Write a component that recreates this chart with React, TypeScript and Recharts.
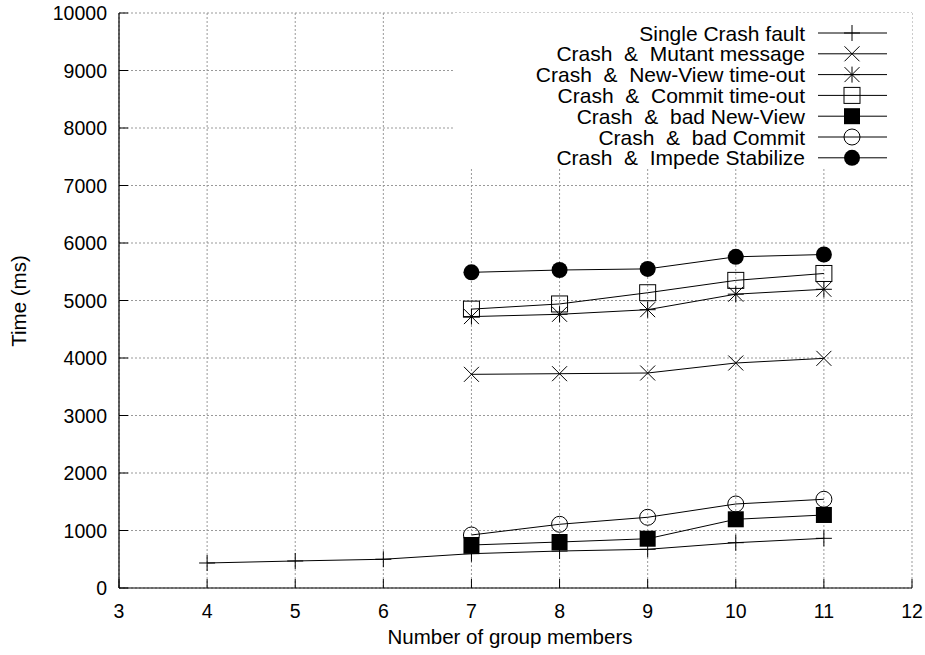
import { LineChart, Line, XAxis, YAxis, CartesianGrid, ReferenceArea } from "recharts";

// group size on x, recovery time (ms) on y
const members = [4, 5, 6, 7, 8, 9, 10, 11];
const singleCrash = [435, 470, 500, 597, 643, 673, 788, 864];
const mutantMessage = [null, null, null, 3716, 3727, 3739, 3913, 3994];
const newViewTimeout = [null, null, null, 4720, 4760, 4840, 5110, 5195];
const commitTimeout = [null, null, null, 4850, 4940, 5135, 5350, 5470];
const badNewView = [null, null, null, 748, 800, 857, 1195, 1270];
const badCommit = [null, null, null, 922, 1108, 1230, 1461, 1543];
const impedeStabilize = [null, null, null, 5490, 5530, 5550, 5760, 5800];

const xTicks = [3, 4, 5, 6, 7, 8, 9, 10, 11, 12];
const yTicks = [0, 1000, 2000, 3000, 4000, 5000, 6000, 7000, 8000, 9000, 10000];

const data = members.map((n, i) => ({
  n,
  single: singleCrash[i],
  mutant: mutantMessage[i],
  nvTimeout: newViewTimeout[i],
  commitTimeout: commitTimeout[i],
  badNV: badNewView[i],
  badCommit: badCommit[i],
  impede: impedeStabilize[i],
}));

type Shape = "plus" | "cross" | "star" | "square" | "squareFill" | "circle" | "circleFill";

const series: { key: string; label: string; shape: Shape }[] = [
  { key: "single", label: "Single Crash fault", shape: "plus" },
  { key: "mutant", label: "Crash  &  Mutant message", shape: "cross" },
  { key: "nvTimeout", label: "Crash  &  New-View time-out", shape: "star" },
  { key: "commitTimeout", label: "Crash  &  Commit time-out", shape: "square" },
  { key: "badNV", label: "Crash  &  bad New-View", shape: "squareFill" },
  { key: "badCommit", label: "Crash  &  bad Commit", shape: "circle" },
  { key: "impede", label: "Crash  &  Impede Stabilize", shape: "circleFill" },
];

const W = 925;
const H = 655;
const LEFT = 119;
const RIGHT = 912;
const TOP = 13;
const BOTTOM = 588;
const TICK = 9;
const FONT = "'Liberation Sans', Arial, Helvetica, sans-serif";

function Marker({ shape, cx, cy }: { shape: Shape; cx: number; cy: number }) {
  const s = 8;
  const d = 7.5;
  const k = { stroke: "#000", strokeWidth: 1 };
  switch (shape) {
    case "plus":
      return (
        <g>
          <line x1={cx - s} x2={cx + s} y1={cy} y2={cy} {...k} />
          <line x1={cx} x2={cx} y1={cy - s} y2={cy + s} {...k} />
        </g>
      );
    case "cross":
      return (
        <g>
          <line x1={cx - d} x2={cx + d} y1={cy - d} y2={cy + d} {...k} />
          <line x1={cx - d} x2={cx + d} y1={cy + d} y2={cy - d} {...k} />
        </g>
      );
    case "star":
      return (
        <g>
          <line x1={cx - s} x2={cx + s} y1={cy} y2={cy} {...k} />
          <line x1={cx} x2={cx} y1={cy - s} y2={cy + s} {...k} />
          <line x1={cx - d} x2={cx + d} y1={cy - d} y2={cy + d} {...k} />
          <line x1={cx - d} x2={cx + d} y1={cy + d} y2={cy - d} {...k} />
        </g>
      );
    case "square":
      return <rect x={cx - s} y={cy - s} width={2 * s} height={2 * s} fill="none" {...k} />;
    case "squareFill":
      return <rect x={cx - s} y={cy - s} width={2 * s} height={2 * s} fill="#000" stroke="none" />;
    case "circle":
      return <circle cx={cx} cy={cy} r={s} fill="none" {...k} />;
    default:
      return <circle cx={cx} cy={cy} r={s} fill="#000" stroke="none" />;
  }
}

const dotFor = (shape: Shape) => (p: any) => {
  if (p.cx == null || p.cy == null || p.value == null) return <g key={p.index} />;
  return (
    <g key={p.index}>
      <Marker shape={shape} cx={p.cx} cy={p.cy} />
    </g>
  );
};

const BottomTick = ({ x, payload }: any) => (
  <g>
    <line x1={x} x2={x} y1={BOTTOM} y2={BOTTOM - TICK} stroke="#000" />
    <text x={x} y={618} textAnchor="middle" fontSize={19.5} fontFamily={FONT} fill="#000">
      {payload.value}
    </text>
  </g>
);

const LeftTick = ({ y, payload }: any) => (
  <g>
    <line x1={LEFT} x2={LEFT + TICK} y1={y} y2={y} stroke="#000" />
    <text x={107} y={y + 7} textAnchor="end" fontSize={19.5} fontFamily={FONT} fill="#000">
      {payload.value}
    </text>
  </g>
);

const TopTick = ({ x }: any) => <line x1={x} x2={x} y1={TOP} y2={TOP + TICK} stroke="#000" />;
const RightTick = ({ y }: any) => <line x1={RIGHT} x2={RIGHT - TICK} y1={y} y2={y} stroke="#000" />;

export default function App() {
  return (
    <div style={{ position: "absolute", left: 0, top: 0, width: W, height: H, background: "#fff" }}>
      <LineChart
        width={W}
        height={H}
        data={data}
        margin={{ top: TOP, right: W - RIGHT, bottom: 0, left: 0 }}
      >
        <CartesianGrid stroke="#999" strokeDasharray="2 2" />
        <ReferenceArea x1={6.79} x2={12} y1={7300} y2={10000} fill="#fff" fillOpacity={1} stroke="none" />
        <XAxis
          dataKey="n"
          type="number"
          domain={[3, 12]}
          ticks={xTicks}
          height={H - BOTTOM}
          tickSize={0}
          tick={<BottomTick />}
          axisLine={{ stroke: "#000", strokeWidth: 1.2 }}
          tickLine={false}
          label={{
            content: () => (
              <text x={510} y={644} textAnchor="middle" fontSize={20.5} fontFamily={FONT} fill="#000">
                Number of group members
              </text>
            ),
          }}
        />
        <XAxis
          xAxisId="top"
          orientation="top"
          dataKey="n"
          type="number"
          domain={[3, 12]}
          ticks={xTicks}
          height={0}
          tickSize={0}
          tick={<TopTick />}
          axisLine={{ stroke: "#000", strokeWidth: 1.2 }}
          tickLine={false}
        />
        <YAxis
          type="number"
          domain={[0, 10000]}
          ticks={yTicks}
          width={LEFT}
          tickSize={0}
          tick={<LeftTick />}
          axisLine={{ stroke: "#000", strokeWidth: 1.2 }}
          tickLine={false}
          label={{
            content: () => (
              <text
                x={26}
                y={301}
                transform="rotate(-90 26 301)"
                textAnchor="middle"
                fontSize={20.5}
                fontFamily={FONT}
                fill="#000"
              >
                Time (ms)
              </text>
            ),
          }}
        />
        <YAxis
          yAxisId="right"
          orientation="right"
          type="number"
          domain={[0, 10000]}
          ticks={yTicks}
          width={0}
          tickSize={0}
          tick={<RightTick />}
          axisLine={{ stroke: "#000", strokeWidth: 1.2 }}
          tickLine={false}
        />
        {series.map((s) => (
          <Line
            key={s.key}
            dataKey={s.key}
            type="linear"
            stroke="#000"
            strokeWidth={1}
            dot={dotFor(s.shape)}
            activeDot={false}
            isAnimationActive={false}
          />
        ))}
      </LineChart>
      <svg
        width={W}
        height={H}
        style={{ position: "absolute", left: 0, top: 0, pointerEvents: "none" }}
      >
        {series.map((s, i) => {
          const y = 33 + i * 20.8;
          return (
            <g key={s.key}>
              <text
                x={805}
                y={y + 7.5}
                textAnchor="end"
                fontSize={21}
                fontFamily={FONT}
                fill="#000"
                style={{ whiteSpace: "pre" }}
              >
                {s.label}
              </text>
              <line x1={818} x2={887} y1={y} y2={y} stroke="#000" strokeWidth={1} />
              <Marker shape={s.shape} cx={852} cy={y} />
            </g>
          );
        })}
      </svg>
    </div>
  );
}
